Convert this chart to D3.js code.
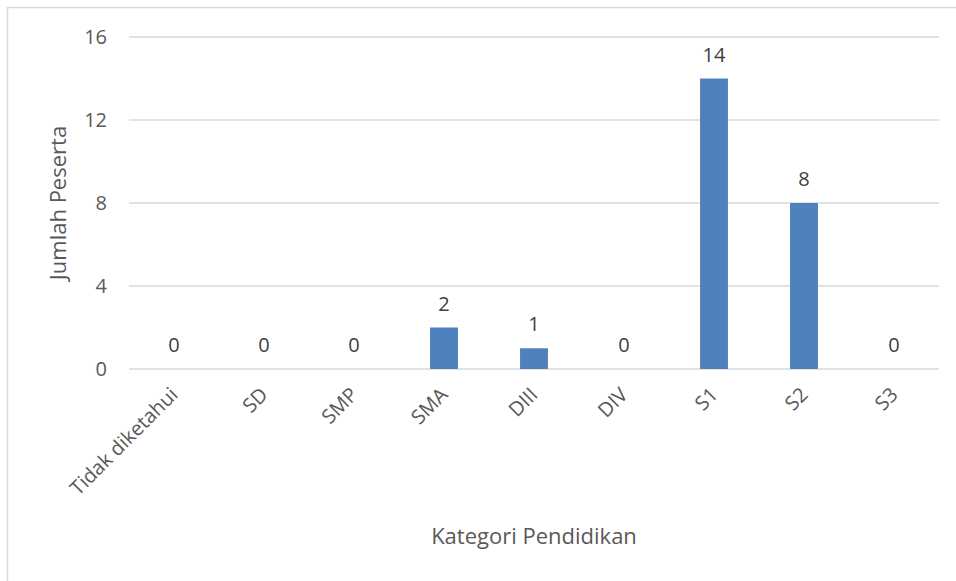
<!DOCTYPE html>
<html>
<head>
<meta charset="utf-8">
<script src="https://cdn.jsdelivr.net/npm/d3@7"></script>
<style>
  body { margin: 0; background: #fff; }
  svg text { font-family: "Open Sans", "Noto Sans", sans-serif; fill: #595959; }
</style>
</head>
<body>
<svg id="canvas"></svg>
<script>
// Data
const categories = ["Tidak diketahui", "SD", "SMP", "SMA", "DIII", "DIV", "S1", "S2", "S3"];
const peserta = [0, 0, 0, 2, 1, 0, 14, 8, 0];
const yTicks = [0, 4, 8, 12, 16];

const data = categories.map((c, i) => ({ kategori: c, jumlah: peserta[i] }));

const svgWidth = 956;
const svgHeight = 581;
const plot = { left: 129, right: 939, top: 37, bottom: 369 };

const svg = d3.select("#canvas")
              .attr("width", svgWidth)
              .attr("height", svgHeight);

// Outer chart border (cropped on right and bottom)
svg.append("rect")
   .attr("x", 7.5).attr("y", 7.5)
   .attr("width", 960).attr("height", 600)
   .attr("fill", "none")
   .attr("stroke", "#d9d9d9")
   .attr("stroke-width", 1.5);

const xScale = d3.scaleBand()
                 .domain(categories)
                 .range([plot.left, plot.right])
                 .paddingInner(0.69)
                 .paddingOuter(0.345);

const yScale = d3.scaleLinear()
                 .domain([0, 16])
                 .range([plot.bottom, plot.top]);

// Gridlines
svg.append("g")
   .selectAll("line")
   .data(yTicks)
   .enter()
   .append("line")
   .attr("x1", plot.left)
   .attr("x2", plot.right)
   .attr("y1", d => yScale(d))
   .attr("y2", d => yScale(d))
   .attr("stroke", "#d9d9d9")
   .attr("stroke-width", 1.3);

// Y axis labels
const yAxis = d3.axisLeft(yScale).tickValues(yTicks).tickSize(0).tickPadding(22);
const gY = svg.append("g")
              .attr("transform", `translate(${plot.left}, 0)`)
              .call(yAxis);
gY.select(".domain").remove();
gY.selectAll("text").style("font-size", "20px").attr("fill", "#595959");

// Bars
svg.append("g")
   .selectAll("rect")
   .data(data)
   .enter()
   .append("rect")
   .attr("x", d => xScale(d.kategori))
   .attr("y", d => yScale(d.jumlah))
   .attr("width", xScale.bandwidth())
   .attr("height", d => yScale(0) - yScale(d.jumlah))
   .attr("fill", "#4f81bd");

// Value labels
svg.append("g")
   .selectAll("text")
   .data(data)
   .enter()
   .append("text")
   .attr("x", d => xScale(d.kategori) + xScale.bandwidth() / 2)
   .attr("y", d => yScale(d.jumlah) - 17)
   .attr("text-anchor", "middle")
   .style("font-size", "20px")
   .style("fill", "#404040")
   .text(d => d.jumlah);

// X axis labels, rotated
const xAxis = d3.axisBottom(xScale).tickSize(0).tickPadding(0);
const gX = svg.append("g")
              .attr("transform", `translate(0, ${plot.bottom})`)
              .call(xAxis);
gX.select(".domain").remove();
gX.selectAll("text")
  .style("font-size", "20px")
  .attr("text-anchor", "end")
  .attr("dy", null)
  .attr("y", 0)
  .attr("transform", "translate(5, 27) rotate(-45)");

// Axis titles
svg.append("text")
   .attr("x", 534)
   .attr("y", 544)
   .attr("text-anchor", "middle")
   .style("font-size", "22px")
   .text("Kategori Pendidikan");

svg.append("text")
   .attr("transform", "translate(66, 203) rotate(-90)")
   .attr("text-anchor", "middle")
   .style("font-size", "22px")
   .text("Jumlah Peserta");
</script>
</body>
</html>
